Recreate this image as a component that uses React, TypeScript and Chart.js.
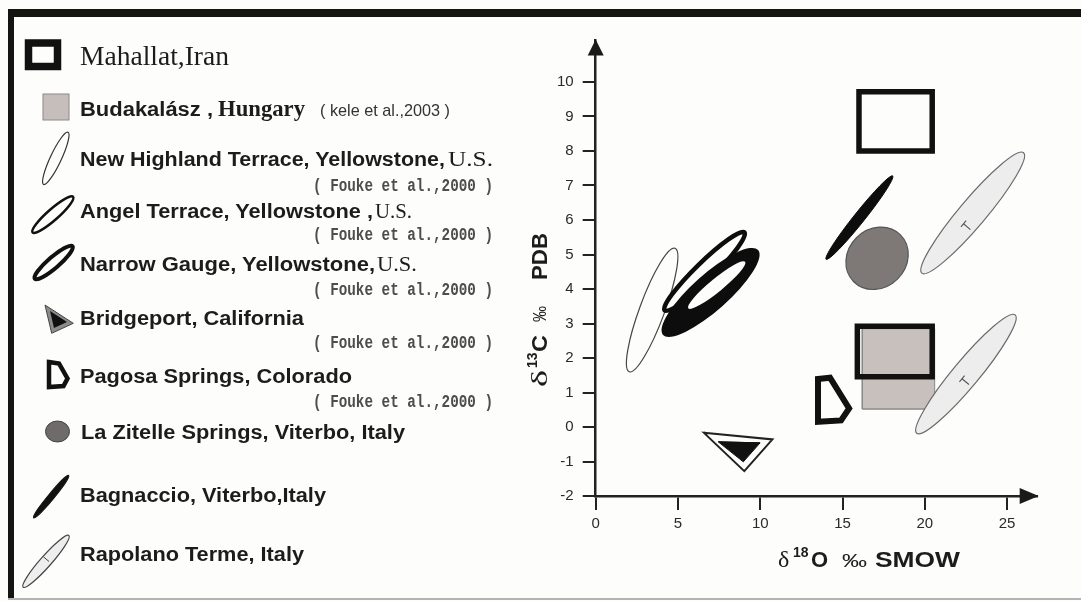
import React, { useEffect, useRef } from "react";
import { Chart, registerables } from "chart.js";

Chart.register(...registerables);

// ---------- DATA (δ18O ‰ SMOW, δ13C ‰ PDB) ----------
const xTickValues = [0, 5, 10, 15, 20, 25];
const yTickValues = [-2, -1, 0, 1, 2, 3, 4, 5, 6, 7, 8, 9, 10];
const xRange = [0, 26.8];
const yRange = [-2, 11.2];

// polygon fields: vertices [δ18O, δ13C]
const mahallatUpper = [[16.0, 8.0], [20.45, 8.0], [20.45, 9.72], [16.0, 9.72]];
const mahallatLower = [[15.9, 1.46], [20.45, 1.46], [20.45, 2.92], [15.9, 2.92]];
const budakalasz = [[16.2, 0.52], [20.6, 0.52], [20.6, 2.85], [16.2, 2.85]];
const pagosa = [[13.51, 1.39], [14.24, 1.43], [15.4, 0.54], [14.91, 0.19], [13.51, 0.15]];
const bridgeportOuter = [[6.58, -0.17], [10.74, -0.36], [9.03, -1.28]];
const bridgeportInner = [[7.45, -0.43], [9.99, -0.46], [8.97, -1.01]];

// elliptical fields: major-axis end points [x1, y1, x2, y2]
const newHighland = [2.04, 1.6, 4.82, 5.18];
const angelTerrace = [4.19, 3.38, 9.04, 5.64];
const narrowGaugeOuter = [4.09, 2.67, 9.87, 5.13];
const narrowGaugeInner = [5.63, 3.44, 9.08, 4.79];
const bagnaccio = [14.0, 4.86, 18.05, 7.28];
const laZitelle = [15.68, 4.21, 18.52, 5.57];
const rapolanoUpper = [19.82, 4.46, 26.0, 7.95];
const rapolanoLower = [19.51, -0.18, 25.49, 3.25];

// ---------- STYLES ----------
const SANS = "'Liberation Sans', Arial, sans-serif";
const SERIF = "'Liberation Serif', 'Times New Roman', serif";
const MONO = "'Liberation Mono', 'Courier New', monospace";
const BG = "#fdfdfb";

type EStyle = { ratio: number; stroke: string | null; lw: number; fill: string | null; tick?: number };
const ellipseFields: { pts: number[]; style: EStyle }[] = [
  { pts: newHighland, style: { ratio: 0.19, stroke: "#444", lw: 1.2, fill: null } },
  { pts: angelTerrace, style: { ratio: 0.16, stroke: "#0d0d0d", lw: 4.5, fill: BG } },
  { pts: narrowGaugeOuter, style: { ratio: 0.283, stroke: null, lw: 0, fill: "#0d0d0d" } },
  { pts: narrowGaugeInner, style: { ratio: 0.18, stroke: null, lw: 0, fill: BG } },
  { pts: bagnaccio, style: { ratio: 0.1, stroke: "#0d0d0d", lw: 1, fill: "#0d0d0d" } },
  { pts: laZitelle, style: { ratio: 0.88, stroke: "#555", lw: 1.2, fill: "#7e7977" } },
  { pts: rapolanoUpper, style: { ratio: 0.17, stroke: "#6a6a6a", lw: 1.2, fill: "#ededed", tick: 0.41 } },
  { pts: rapolanoLower, style: { ratio: 0.17, stroke: "#6a6a6a", lw: 1.2, fill: "#ededed", tick: 0.46 } },
];

const closed = (pts: number[][]) => [...pts, pts[0], pts[1]].map(([x, y]) => ({ x, y }));

const fieldsPlugin = {
  id: "fields",
  afterDatasetsDraw(chart: any) {
    const { ctx } = chart;
    const xs = chart.scales.x;
    const ys = chart.scales.y;
    ellipseFields.forEach(({ pts, style }) => {
      const x1 = xs.getPixelForValue(pts[0]);
      const y1 = ys.getPixelForValue(pts[1]);
      const x2 = xs.getPixelForValue(pts[2]);
      const y2 = ys.getPixelForValue(pts[3]);
      const cx = (x1 + x2) / 2;
      const cy = (y1 + y2) / 2;
      const len = Math.hypot(x2 - x1, y2 - y1);
      const a = len / 2;
      const b = a * style.ratio;
      const ang = Math.atan2(y2 - y1, x2 - x1);
      ctx.save();
      ctx.beginPath();
      ctx.ellipse(cx, cy, a, b, ang, 0, Math.PI * 2);
      if (style.fill) {
        ctx.fillStyle = style.fill;
        ctx.fill();
      }
      if (style.stroke) {
        ctx.lineWidth = style.lw;
        ctx.strokeStyle = style.stroke;
        ctx.stroke();
      }
      if (style.tick != null) {
        const ux = (x2 - x1) / len;
        const uy = (y2 - y1) / len;
        const nx = -uy;
        const ny = ux;
        const px = x1 + (x2 - x1) * style.tick;
        const py = y1 + (y2 - y1) * style.tick;
        ctx.beginPath();
        ctx.moveTo(px, py);
        ctx.lineTo(px + nx * 9, py + ny * 9);
        ctx.moveTo(px - ux * 4, py - uy * 4);
        ctx.lineTo(px + ux * 4, py + uy * 4);
        ctx.lineWidth = 1.1;
        ctx.strokeStyle = "#555";
        ctx.stroke();
      }
      ctx.restore();
    });
  },
  afterDraw(chart: any) {
    const { ctx, chartArea } = chart;
    ctx.save();
    ctx.fillStyle = "#1a1a1a";
    ctx.beginPath();
    ctx.moveTo(chartArea.left, chartArea.top - 1);
    ctx.lineTo(chartArea.left - 8, chartArea.top + 15);
    ctx.lineTo(chartArea.left + 8, chartArea.top + 15);
    ctx.closePath();
    ctx.fill();
    ctx.beginPath();
    ctx.moveTo(chartArea.right + 2, chartArea.bottom);
    ctx.lineTo(chartArea.right - 17, chartArea.bottom - 8);
    ctx.lineTo(chartArea.right - 17, chartArea.bottom + 8);
    ctx.closePath();
    ctx.fill();
    ctx.restore();
  },
};

function TipEllipse(p: { x1: number; y1: number; x2: number; y2: number; minor: number; fill: string; stroke: string; sw: number }) {
  const cx = (p.x1 + p.x2) / 2;
  const cy = (p.y1 + p.y2) / 2;
  const rx = Math.hypot(p.x2 - p.x1, p.y2 - p.y1) / 2 - p.sw / 2;
  const ang = (Math.atan2(p.y2 - p.y1, p.x2 - p.x1) * 180) / Math.PI;
  return (
    <ellipse cx={cx} cy={cy} rx={rx} ry={p.minor / 2} transform={`rotate(${ang} ${cx} ${cy})`}
      fill={p.fill} stroke={p.stroke} strokeWidth={p.sw} />
  );
}

function Txt(p: { x: number; y: number; fam: string; size: number; w?: string; fill?: string; len?: number; children: any }) {
  return (
    <text x={p.x} y={p.y} fontFamily={p.fam} fontSize={p.size} fontWeight={p.w || "normal"} fill={p.fill || "#1c1c1c"}
      textLength={p.len} lengthAdjust={p.len ? "spacingAndGlyphs" : undefined}>
      {p.children}
    </text>
  );
}

const CITE = "#4d4d4d";

function Overlay() {
  const cite = (y: number) => (
    <Txt x={313} y={y} fam={MONO} size={19} w="bold" fill={CITE} len={180}>( Fouke et al.,2000 )</Txt>
  );
  return (
    <svg width={1081} height={601} style={{ position: "absolute", left: 0, top: 0, pointerEvents: "none" }}>
      {/* frame */}
      <rect x={8} y={9} width={1073} height={8} fill="#141410" />
      <rect x={8} y={9} width={6} height={591} fill="#141410" />
      <rect x={8} y={598} width={1073} height={2} fill="#b4b4b4" />

      {/* legend icons */}
      <rect x={28.5} y={43} width={29} height={23.5} fill="none" stroke="#111" strokeWidth={7.5} />
      <rect x={43} y={94} width={26} height={26} fill="#c6bebb" stroke="#8a8a8a" strokeWidth={1} />
      <TipEllipse x1={43.3} y1={185} x2={68.3} y2={131.7} minor={11} fill="none" stroke="#333" sw={1.2} />
      <TipEllipse x1={31.7} y1={233.3} x2={74} y2={196} minor={11} fill="none" stroke="#111" sw={2.5} />
      <TipEllipse x1={33.3} y1={280} x2={74} y2={245} minor={11} fill="none" stroke="#111" sw={4} />
      <polygon points="45,305 73.3,323.3 51.7,333.3" fill="#8c8c8c" stroke="#444" strokeWidth={1} />
      <polygon points="50,311 67,322 54,328" fill="#111" />
      <polygon points="49,362 59,363.5 67.5,378.5 63.5,386 49,387" fill="none" stroke="#111" strokeWidth={4.5} />
      <ellipse cx={57.5} cy={431.5} rx={12} ry={10.5} fill="#6f6b6a" stroke="#444" strokeWidth={1} />
      <TipEllipse x1={33.3} y1={518.3} x2={69} y2={475} minor={6} fill="#111" stroke="#111" sw={1} />
      <TipEllipse x1={22.7} y1={587.7} x2={69.3} y2={535} minor={11} fill="#eee" stroke="#444" sw={1.2} />
      <line x1={43.3} y1={556.7} x2={49} y2={561.5} stroke="#444" strokeWidth={1} />

      {/* legend text */}
      <Txt x={80} y={65} fam={SERIF} size={27} len={149}>Mahallat,Iran</Txt>

      <Txt x={80} y={116} fam={SANS} size={20} w="bold" len={133}>Budakalász ,</Txt>
      <Txt x={218} y={116} fam={SERIF} size={23} w="bold" len={87}>Hungary</Txt>
      <Txt x={320} y={116} fam={SANS} size={17} fill="#333" len={130}>( kele et al.,2003 )</Txt>

      <Txt x={80} y={166} fam={SANS} size={20} w="bold" len={365}>New Highland Terrace, Yellowstone,</Txt>
      <Txt x={448} y={166} fam={SERIF} size={21} len={45}>U.S.</Txt>
      {cite(191)}

      <Txt x={80} y={218} fam={SANS} size={20} w="bold" len={293}>Angel Terrace, Yellowstone ,</Txt>
      <Txt x={375} y={218} fam={SERIF} size={21} len={37}>U.S.</Txt>
      {cite(240)}

      <Txt x={80} y={271} fam={SANS} size={20} w="bold" len={295}>Narrow Gauge, Yellowstone,</Txt>
      <Txt x={377} y={271} fam={SERIF} size={21} len={40}>U.S.</Txt>
      {cite(295)}

      <Txt x={80} y={325} fam={SANS} size={20} w="bold" len={224}>Bridgeport, California</Txt>
      {cite(348)}

      <Txt x={80} y={383} fam={SANS} size={20} w="bold" len={272}>Pagosa Springs, Colorado</Txt>
      {cite(407)}

      <Txt x={81} y={439} fam={SANS} size={20} w="bold" len={324}>La Zitelle Springs, Viterbo, Italy</Txt>
      <Txt x={80} y={502} fam={SANS} size={20} w="bold" len={246}>Bagnaccio, Viterbo,Italy</Txt>
      <Txt x={80} y={561} fam={SANS} size={20} w="bold" len={224}>Rapolano Terme, Italy</Txt>

      {/* x axis title */}
      <Txt x={778} y={567} fam={SERIF} size={24}>δ</Txt>
      <Txt x={793} y={557} fam={SANS} size={14} w="bold">18</Txt>
      <Txt x={811} y={567} fam={SANS} size={22} w="bold">O</Txt>
      <Txt x={842} y={567} fam={SANS} size={18} len={25}>‰</Txt>
      <Txt x={875} y={567} fam={SANS} size={22} w="bold" len={85}>SMOW</Txt>

      {/* y axis title */}
      <g transform="translate(547 0) rotate(-90)">
        <Txt x={-387} y={0} fam={SERIF} size={24} len={17}>δ</Txt>
        <Txt x={-368} y={-10} fam={SANS} size={14} w="bold">13</Txt>
        <Txt x={-352} y={0} fam={SANS} size={22} w="bold" len={17}>C</Txt>
        <Txt x={-322} y={-1} fam={SANS} size={19} len={16}>‰</Txt>
        <Txt x={-280} y={0} fam={SANS} size={22} w="bold" len={47}>PDB</Txt>
      </g>
    </svg>
  );
}

export default function App() {
  const ref = useRef<HTMLCanvasElement | null>(null);

  useEffect(() => {
    if (!ref.current) return;
    const chart = new Chart(ref.current, {
      type: "scatter",
      data: {
        datasets: [
          { label: "Mahallat, Iran", data: closed(mahallatUpper), showLine: true, borderColor: "#111", borderWidth: 5.5,
            pointRadius: 0, fill: false, borderJoinStyle: "miter", order: 1 },
          { label: "Mahallat, Iran (2)", data: closed(mahallatLower), showLine: true, borderColor: "#111", borderWidth: 5.5,
            pointRadius: 0, fill: false, borderJoinStyle: "miter", order: 1 },
          { label: "Budakalász, Hungary", data: closed(budakalasz), showLine: true, borderColor: "#8a8a8a", borderWidth: 1,
            backgroundColor: "#c8c0bc", pointRadius: 0, fill: "shape", order: 3 },
          { label: "Pagosa Springs, Colorado", data: closed(pagosa), showLine: true, borderColor: "#111", borderWidth: 6,
            pointRadius: 0, fill: false, borderJoinStyle: "miter", order: 1 },
          { label: "Bridgeport inner", data: closed(bridgeportInner), showLine: true, borderColor: "#111", borderWidth: 1,
            backgroundColor: "#111", pointRadius: 0, fill: "shape", order: 1 },
          { label: "Bridgeport, California", data: closed(bridgeportOuter), showLine: true, borderColor: "#222", borderWidth: 2,
            backgroundColor: BG, pointRadius: 0, fill: "shape", borderJoinStyle: "miter", order: 2 },
        ],
      },
      options: {
        responsive: false,
        animation: false,
        events: [],
        layout: { padding: { left: 0, right: 1081 - 1036.7, top: 40.6, bottom: 0 } },
        plugins: { legend: { display: false }, tooltip: { enabled: false }, title: { display: false } },
        scales: {
          x: {
            type: "linear",
            min: xRange[0],
            max: xRange[1],
            afterFit: (s: any) => { s.height = 105; },
            afterBuildTicks: (s: any) => { s.ticks = xTickValues.map((v) => ({ value: v })); },
            grid: { drawOnChartArea: false, drawTicks: true, tickLength: 14, color: "#222", lineWidth: 2 },
            border: { display: true, color: "#222", width: 2.5 },
            ticks: { font: { family: SANS, size: 15 }, color: "#2a2a2a", padding: 5, maxRotation: 0, autoSkip: false },
          },
          y: {
            type: "linear",
            min: yRange[0],
            max: yRange[1],
            afterFit: (s: any) => { s.width = 595.7; },
            afterBuildTicks: (s: any) => { s.ticks = yTickValues.map((v) => ({ value: v })); },
            grid: { drawOnChartArea: false, drawTicks: true, tickLength: 13, color: "#222", lineWidth: 2 },
            border: { display: true, color: "#222", width: 2.5 },
            ticks: { font: { family: SANS, size: 15 }, color: "#2a2a2a", padding: 9, autoSkip: false },
          },
        },
      },
      plugins: [fieldsPlugin],
    } as any);
    return () => chart.destroy();
  }, []);

  return (
    <div style={{ position: "absolute", left: 0, top: 0, width: 1081, height: 601, background: BG, overflow: "hidden" }}>
      <canvas ref={ref} width={1081} height={601} style={{ position: "absolute", left: 0, top: 0 }} />
      <Overlay />
    </div>
  );
}
